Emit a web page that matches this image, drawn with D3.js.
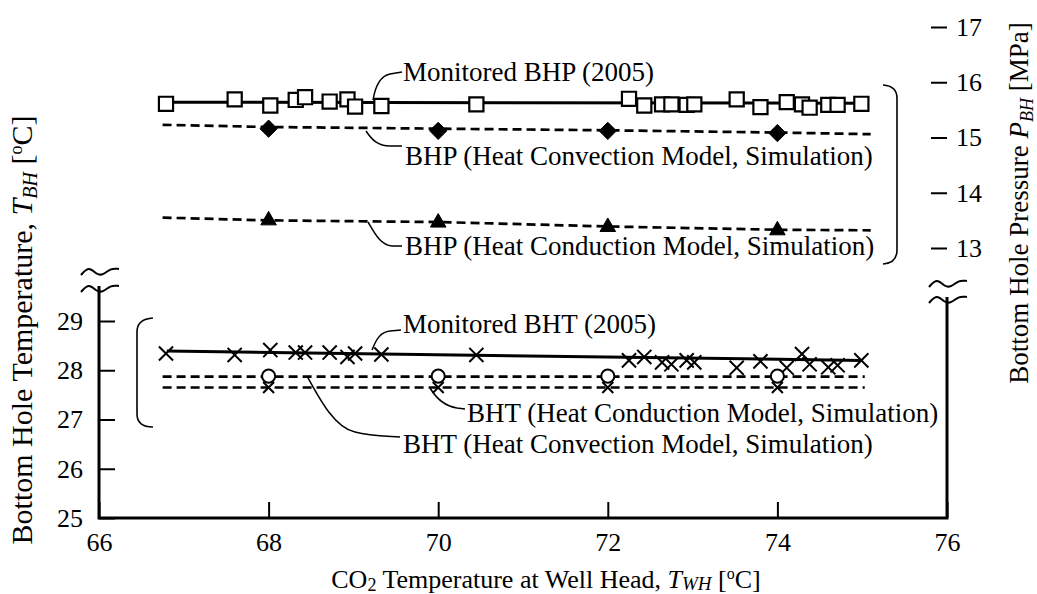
<!DOCTYPE html>
<html>
<head>
<meta charset="utf-8">
<script src="https://cdn.jsdelivr.net/npm/d3@7"></script>
<style>
body { margin:0; background:#fff; }
svg { display:block; font-family:"Liberation Serif", "Times New Roman", serif; }
</style>
</head>
<body>
<div id="chart"></div>
<script>
// CO2 temperature at well head for the monitored records (2005)
var wellHeadTemp = [66.79, 67.60, 68.02, 68.32, 68.43, 68.72, 68.93, 69.02, 69.33, 70.45,
	72.25, 72.43, 72.64, 72.75, 72.93, 73.02, 73.52, 73.80, 74.11, 74.29, 74.38, 74.60, 74.71, 74.99];
var monitoredBHP = [15.61, 15.69, 15.58, 15.68, 15.73, 15.65, 15.69, 15.56, 15.57, 15.60,
	15.70, 15.58, 15.60, 15.60, 15.59, 15.60, 15.69, 15.55, 15.64, 15.60, 15.54, 15.59, 15.59, 15.61];
var monitoredBHT = [28.34, 28.31, 28.41, 28.36, 28.36, 28.36, 28.27, 28.34, 28.32, 28.31,
	28.20, 28.27, 28.16, 28.12, 28.20, 28.16, 28.05, 28.18, 28.05, 28.33, 28.12, 28.06, 28.10, 28.20];
// trend lines through the monitored data
var trendX   = [66.8, 75.0];
var trendBHP = [15.64, 15.62];
var trendBHT = [28.39, 28.20];
// simulation curves
var simX  = [66.75, 68, 70, 72, 74, 75.1];
var simBHPConvection = [15.23, 15.19, 15.16, 15.13, 15.09, 15.06];
var simBHPConduction = [13.55, 13.50, 13.47, 13.39, 13.33, 13.32];
var simTX = [66.75, 68, 70, 72, 74, 75.03];
var simBHTConvection = [27.87, 27.87, 27.87, 27.87, 27.87, 27.87];
var simBHTConduction = [27.65, 27.65, 27.65, 27.65, 27.65, 27.65];
// simulation markers
var markX = [68, 70, 72, 74];
var markBHPConvection = [15.16, 15.12, 15.12, 15.08];
var markBHPConduction = [13.50, 13.46, 13.38, 13.32];
var markBHTConvection = [27.88, 27.88, 27.88, 27.88];
var markBHTConduction = [27.65, 27.65, 27.65, 27.65];
// ticks
var xTicks = [66, 68, 70, 72, 74, 76];
var tTicks = [25, 26, 27, 28, 29];
var pTicks = [13, 14, 15, 16, 17];

var width = 1037, height = 594;
var svg = d3.select("#chart").append("svg").attr("width", width).attr("height", height);

var x  = d3.scaleLinear().domain([66, 76]).range([99, 947]);
var yT = d3.scaleLinear().domain([25, 29]).range([518, 321]);
var yP = d3.scaleLinear().domain([13, 17]).range([248, 27]);

var left = x.range()[0], right = x.range()[1], bottom = yT.range()[0], top = yP.range()[1];
var lw = 3;

// axes (ticks point inwards)
var fmt = d3.format("d");
var gx = svg.append("g").attr("transform", "translate(0," + bottom + ")")
	.call(d3.axisBottom(x).tickValues(xTicks).tickFormat(fmt).tickSizeInner(-16).tickSizeOuter(0).tickPadding(15));
var gl = svg.append("g").attr("transform", "translate(" + left + ",0)")
	.call(d3.axisLeft(yT).tickValues(tTicks).tickFormat(fmt).tickSizeInner(-16).tickSizeOuter(0).tickPadding(16));
var gr = svg.append("g").attr("transform", "translate(" + right + ",0)")
	.call(d3.axisRight(yP).tickValues(pTicks).tickFormat(fmt).tickSizeInner(-16).tickSizeOuter(0).tickPadding(9));
[gx, gl, gr].forEach(function(g) {
	g.select(".domain").remove();
	g.selectAll(".tick line").attr("stroke", "#000").attr("stroke-width", 2);
	g.selectAll(".tick text").attr("font-size", 26).attr("font-family", "Liberation Serif").attr("fill", "#000");
});

// frame with breaks on both vertical axes
var breakL = [271, 288], breakR = [283, 299];
var frame = svg.append("g").attr("stroke", "#000").attr("stroke-width", lw).attr("fill", "none");
frame.append("path").attr("d", d3.line()([[left, breakL[0] + 2], [left, top], [right, top], [right, breakR[0] + 2]]));
frame.append("path").attr("d", d3.line()([[left, breakL[1] - 2], [left, bottom], [right, bottom], [right, breakR[1] - 2]]));

var wave = d3.line().curve(d3.curveBasis);
function breakMark(cx, cy) {
	svg.append("path")
		.attr("d", wave([[cx - 18, cy + 4], [cx - 10, cy - 5], [cx - 2, cy + 4], [cx + 4, cy + 4], [cx + 12, cy - 3], [cx + 20, cy - 2]]))
		.attr("fill", "none").attr("stroke", "#000").attr("stroke-width", 2);
}
breakMark(left, breakL[0]); breakMark(left, breakL[1]);
breakMark(right, breakR[0]); breakMark(right, breakR[1]);

// lines
var lineT = d3.line().x(function(d) { return x(d[0]); }).y(function(d) { return yT(d[1]); });
var lineP = d3.line().x(function(d) { return x(d[0]); }).y(function(d) { return yP(d[1]); });
function pairs(xs, ys) { return xs.map(function(v, i) { return [v, ys[i]]; }); }

var lines = svg.append("g").attr("fill", "none").attr("stroke", "#000");
lines.append("path").attr("d", lineP(pairs(trendX, trendBHP))).attr("stroke-width", 3);
lines.append("path").attr("d", lineT(pairs(trendX, trendBHT))).attr("stroke-width", 3);
[[simX, simBHPConvection, lineP], [simX, simBHPConduction, lineP],
 [simTX, simBHTConvection, lineT], [simTX, simBHTConduction, lineT]].forEach(function(s) {
	lines.append("path").attr("d", s[2](pairs(s[0], s[1])))
		.attr("stroke-width", 2.7).attr("stroke-dasharray", "9,5");
});

// markers
var times = { draw: function(ctx, size) {
	var r = Math.sqrt(size) / 2;
	ctx.moveTo(-r, -r); ctx.lineTo(r, r); ctx.moveTo(r, -r); ctx.lineTo(-r, r);
}};
function markers(xs, ys, yScale, type, size, fill, sw) {
	svg.append("g").selectAll("path").data(pairs(xs, ys)).join("path")
		.attr("transform", function(d) { return "translate(" + x(d[0]) + "," + yScale(d[1]) + ")"; })
		.attr("d", d3.symbol().type(type).size(size))
		.attr("fill", fill).attr("stroke", "#000").attr("stroke-width", sw);
}
markers(wellHeadTemp, monitoredBHP, yP, d3.symbolSquare, 200, "#fff", 2.2);
markers(markX, markBHPConvection, yP, d3.symbolDiamond2, 190, "#000", 1);
markers(markX, markBHPConduction, yP, d3.symbolTriangle, 105, "#000", 1);
markers(wellHeadTemp, monitoredBHT, yT, times, 200, "none", 2);
markers(markX, markBHTConduction, yT, times, 120, "none", 2);
markers(markX, markBHTConvection, yT, d3.symbolCircle, 135, "#fff", 2);

// brackets
var brk = svg.append("g").attr("fill", "none").attr("stroke", "#000").attr("stroke-width", 1.6);
brk.append("path").attr("d", "M883,85 Q897,86 897,98 L897,250 Q897,263 883,264");
brk.append("path").attr("d", "M153,318 Q137,319 137,332 L137,414 Q137,427 153,427");

// annotations with leader lines
var notes = [
	{ text: "Monitored BHP (2005)", tx: 403, ty: 81, lead: "M373,100 C375,88 380,76 390,74 L402,72" },
	{ text: "BHP (Heat Convection Model, Simulation)", tx: 405, ty: 165, lead: "M366,131 C372,140 378,146 390,146 L402,146" },
	{ text: "BHP (Heat Conduction Model, Simulation)", tx: 405, ty: 255, lead: "M368,222 C374,232 380,245 392,246 L402,246" },
	{ text: "Monitored BHT (2005)", tx: 403, ty: 333, lead: "M372,350 C376,340 380,332 390,331 L401,330" },
	{ text: "BHT (Heat Conduction Model, Simulation)", tx: 467, ty: 422, lead: "M430,388 C436,398 444,406 457,408 L465,409" },
	{ text: "BHT (Heat Convection Model, Simulation)", tx: 403, ty: 453, lead: "M307,376 C320,400 335,428 355,432 C370,436 385,436 400,437" }
];
var ann = svg.append("g");
notes.forEach(function(n) {
	ann.append("path").attr("d", n.lead).attr("fill", "none").attr("stroke", "#000").attr("stroke-width", 1.5);
	ann.append("text").attr("x", n.tx).attr("y", n.ty).attr("font-size", 27).text(n.text);
});

// axis titles
var tl = svg.append("text").attr("transform", "translate(32,330) rotate(-90)")
	.attr("text-anchor", "middle").attr("font-size", 30);
tl.append("tspan").text("Bottom Hole Temperature, ");
tl.append("tspan").attr("font-style", "italic").text("T");
tl.append("tspan").attr("font-style", "italic").attr("font-size", 20).attr("dy", 5).text("BH");
tl.append("tspan").attr("dy", -5).text("  [");
tl.append("tspan").attr("font-size", 18).attr("dy", -10).text("o");
tl.append("tspan").attr("dy", 10).text("C]");

var tr = svg.append("text").attr("transform", "translate(1028,203) rotate(-90)")
	.attr("text-anchor", "middle").attr("font-size", 27);
tr.append("tspan").text("Bottom Hole Pressure ");
tr.append("tspan").attr("font-style", "italic").text("P");
tr.append("tspan").attr("font-style", "italic").attr("font-size", 18).attr("dy", 5).text("BH");
tr.append("tspan").attr("dy", -5).text("  [MPa]");

var tx = svg.append("text").attr("x", 546).attr("y", 588)
	.attr("text-anchor", "middle").attr("font-size", 26);
tx.append("tspan").text("CO");
tx.append("tspan").attr("font-size", 18).attr("dy", 3).text("2");
tx.append("tspan").attr("dy", -3).text(" Temperature at Well Head, ");
tx.append("tspan").attr("font-style", "italic").text("T");
tx.append("tspan").attr("font-style", "italic").attr("font-size", 19).attr("dy", 2).text("WH");
tx.append("tspan").attr("dy", -2).text(" [");
tx.append("tspan").attr("font-size", 16).attr("dy", -9).text("o");
tx.append("tspan").attr("dy", 9).text("C]");
</script>
</body>
</html>
